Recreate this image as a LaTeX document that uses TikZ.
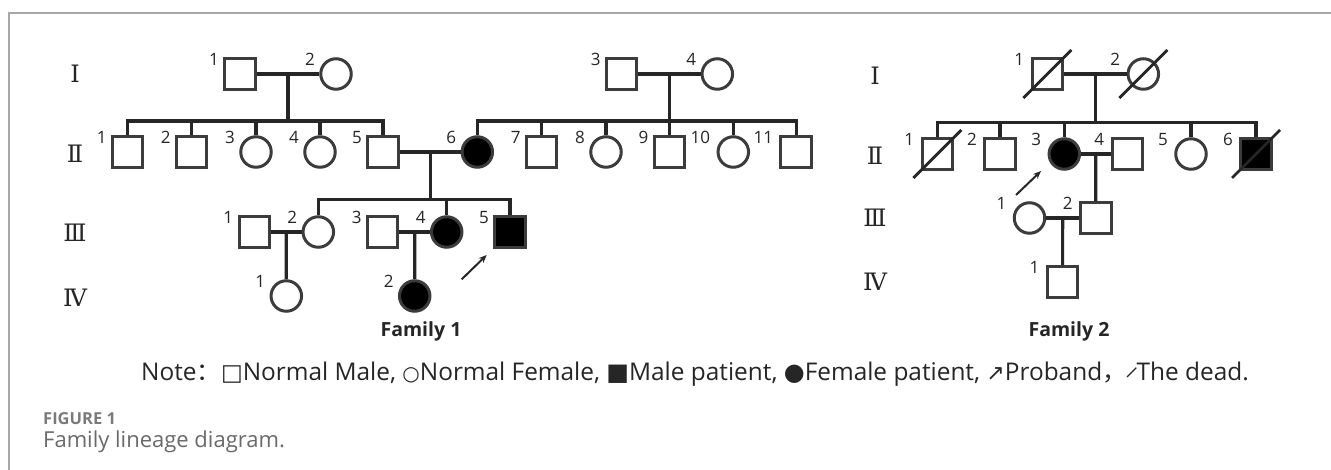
\documentclass[tikz,border=0pt]{standalone}
\usepackage{fontspec}
\setmainfont{Open Sans}
\newfontfamily\symfont{DejaVu Sans}
\newfontfamily\romfont{DejaVu Serif}
\newfontfamily\cjkfont{Noto Sans CJK SC}
\usetikzlibrary{arrows.meta,calc}
\definecolor{ln}{HTML}{262626}
\definecolor{ol}{HTML}{3C3C3C}
\definecolor{framegray}{HTML}{A8A8A8}
\definecolor{capgray}{HTML}{7A7A7A}
\definecolor{capgray2}{HTML}{6A6A6A}
\tikzset{
  male/.style={shape=rectangle, draw=ol, line width=3pt, minimum size=30.5pt, inner sep=0pt},
  female/.style={shape=circle, draw=ol, line width=3pt, minimum size=30.5pt, inner sep=0pt},
  affected/.style={fill=black},
  link/.style={draw=ln, line width=3.2pt},
  lab/.style={font=\fontsize{17}{17}\selectfont, text=ln, inner sep=0pt, anchor=east},
  gen/.style={font=\romfont\fontsize{24}{24}\selectfont, text=ln, inner sep=0pt},
  deadline/.style={draw=ln, line width=2.8pt},
  proband/.style={draw=ln, line width=2pt, -{Stealth[length=8pt,width=6.5pt]}},
  famtitle/.style={font=\bfseries\fontsize{19.5}{19.5}\selectfont, text=ln, inner sep=0pt},
}
\newcommand\lbl[3][-21]{\node[lab] (#2-l) at ([shift={(#1,-14.5)}]#2.center) {#3};}
\newcommand\dead[1]{\draw[deadline] ([shift={(-24,24)}]#1.center) -- ([shift={(24,-24)}]#1.center);}
\begin{document}
\begin{tikzpicture}[x=1pt,y=-1pt]
\useasboundingbox (0,0) rectangle (1331,470);
\fill[white] (0,0) rectangle (1331,470);
\draw[framegray, line width=1.3pt] (9,470) -- (9,13) -- (1331,13);

% generation numerals
\node[gen] (g1I) at (75,74) {Ⅰ};
\node[gen] (g1II) at (75,154) {Ⅱ};
\node[gen] (g1III) at (75,233) {Ⅲ};
\node[gen] (g1IV) at (75,298) {Ⅳ};
\node[gen] (g2I) at (875,76) {Ⅰ};
\node[gen] (g2II) at (875,156) {Ⅱ};
\node[gen] (g2III) at (875,218) {Ⅲ};
\node[gen] (g2IV) at (875,282) {Ⅳ};

% ---------------- Family 1 ----------------
\node[male] (a1) at (240,74) {};
\node[female] (a2) at (336,74) {};
\node[male] (a3) at (621.7,74) {};
\node[female] (a4) at (717.3,74) {};

\node[male] (b1) at (127.7,152) {};
\node[male] (b2) at (191.7,152) {};
\node[female] (b3) at (256,152) {};
\node[female] (b4) at (320,152) {};
\node[male] (b5) at (383,152) {};
\node[female,affected] (b6) at (477.3,152) {};
\node[male] (b7) at (541.7,152) {};
\node[female] (b8) at (606,152) {};
\node[male] (b9) at (669.5,152) {};
\node[female] (b10) at (733.3,152) {};
\node[male] (b11) at (796.2,152) {};

\node[male] (c1) at (254.3,232) {};
\node[female] (c2) at (318.3,232) {};
\node[male] (c3) at (382.7,232) {};
\node[female,affected] (c4) at (446.7,232) {};
\node[male,affected] (c5) at (510,232) {};

\node[female] (d1) at (286.3,296) {};
\node[female,affected] (d2) at (414.7,296) {};

\coordinate (m12) at ($(a1)!0.5!(a2)$);
\coordinate (s12) at (m12 |- 0,121);
\coordinate (m34) at ($(a3)!0.5!(a4)$);
\coordinate (s34) at (m34 |- 0,121);
\coordinate (mb) at ($(b5)!0.5!(b6)$);
\coordinate (sb) at (mb |- 0,199.5);
\coordinate (mc12) at ($(c1)!0.5!(c2)$);
\coordinate (mc34) at ($(c3)!0.5!(c4)$);

\draw[link] (a1) -- (a2);
\draw[link] (a3) -- (a4);
\draw[link] (m12) -- (s12);
\draw[link] (m34) -- (s34);
\foreach \n in {b1,b2,b3,b4,b5} \draw[link] (\n.north) |- (s12);
\foreach \n in {b6,b7,b8,b9,b10,b11} \draw[link] (\n.north) |- (s34);
\draw[link] (b5) -- (b6);
\draw[link] (mb) -- (sb);
\foreach \n in {c2,c4,c5} \draw[link] (\n.north) |- (sb);
\draw[link] (c1) -- (c2);
\draw[link] (c3) -- (c4);
\draw[link] (mc12) -- (d1.north);
\draw[link] (mc34) -- (d2.north);

\coordinate (pa1) at (461.7,279.3);
\coordinate (pa2) at (486.7,255);
\draw[proband] (pa1) -- (pa2);

\lbl{a1}{1}\lbl{a2}{2}\lbl{a3}{3}\lbl{a4}{4}
\lbl{b1}{1}\lbl{b2}{2}\lbl{b3}{3}\lbl{b4}{4}\lbl{b5}{5}\lbl{b6}{6}
\lbl{b7}{7}\lbl{b8}{8}\lbl{b9}{9}\lbl[-23]{b10}{10}\lbl[-23]{b11}{11}
\lbl{c1}{1}\lbl{c2}{2}\lbl{c3}{3}\lbl{c4}{4}\lbl{c5}{5}
\lbl{d1}{1}\lbl{d2}{2}

\node[famtitle] (fam1) at (421,331) {Family 1};

% ---------------- Family 2 ----------------
\node[male] (e1) at (1047.3,74) {};
\node[female] (e2) at (1143.3,74) {};
\node[male] (f1) at (937.3,154) {};
\node[male] (f2) at (1000,154) {};
\node[female,affected] (f3) at (1064.3,154) {};
\node[male] (f4) at (1127.3,154) {};
\node[female] (f5) at (1191,154) {};
\node[male,affected] (f6) at (1256,154) {};
\node[female] (h1) at (1029.5,218) {};
\node[male] (h2) at (1095.8,218) {};
\node[male] (k1) at (1062.6,282) {};

\coordinate (me) at ($(e1)!0.5!(e2)$);
\coordinate (se) at (me |- 0,122.7);
\coordinate (mf) at ($(f3)!0.5!(f4)$);
\coordinate (mh) at ($(h1)!0.5!(h2)$);

\draw[link] (e1) -- (e2);
\draw[link] (me) -- (se);
\foreach \n in {f1,f2,f3,f5,f6} \draw[link] (\n.north) |- (se);
\draw[link] (f3) -- (f4);
\draw[link] (mf) -- (h2.north);
\draw[link] (h1) -- (h2);
\draw[link] (mh) -- (k1.north);

\dead{e1}\dead{e2}\dead{f1}\dead{f6}

\coordinate (pb1) at (1016,195);
\coordinate (pb2) at (1041,171);
\draw[proband] (pb1) -- (pb2);

\lbl[-23]{e1}{1}\lbl[-23]{e2}{2}
\lbl[-23]{f1}{1}\lbl[-23]{f2}{2}\lbl[-23]{f3}{3}\lbl[-23]{f4}{4}\lbl[-23]{f5}{5}\lbl[-23]{f6}{6}
\lbl[-23]{h1}{1}\lbl[-23]{h2}{2}
\lbl[-23]{k1}{1}

\node[famtitle] (fam2) at (1069,331) {Family 2};

% ---------------- Note and caption ----------------
\node[anchor=west, inner sep=0pt, text=ln, font=\fontsize{24.4}{24.4}\selectfont] (note) at (141,374)
 {Note{\cjkfont ：}{\symfont\fontsize{23}{23}\selectfont □}Normal Male, {\symfont\fontsize{20}{20}\selectfont ○}Normal Female, {\symfont\fontsize{24}{24}\selectfont ■}Male patient, {\symfont\fontsize{24}{24}\selectfont ●}Female patient, {\symfont\fontsize{22}{22}\selectfont ↗}Proband{\cjkfont ，}\raisebox{3pt}{\rotatebox{45}{\rule{13pt}{1.3pt}}}The dead.};

\node[anchor=west, inner sep=0pt, text=capgray, font=\bfseries\fontsize{16.5}{16.5}\selectfont] (cap1) at (43,419) {FIGURE 1};
\node[anchor=west, inner sep=0pt, text=capgray2, font=\fontsize{22}{22}\selectfont] (cap2) at (43,442) {Family lineage diagram.};
\end{tikzpicture}
\end{document}
